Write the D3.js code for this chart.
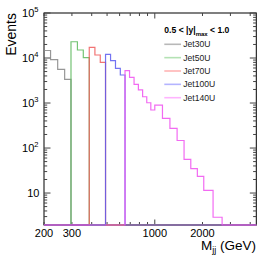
<!DOCTYPE html>
<html>
<head>
<meta charset="utf-8">
<script src="https://cdn.jsdelivr.net/npm/d3@7"></script>
<style>
  body { margin: 0; background: #fff; }
  svg { display: block; font-family: "Liberation Sans", Arial, sans-serif; }
</style>
</head>
<body>
<div id="chart"></div>
<script>
// bin edges in GeV (dijet mass binning, coarser at high mass)
const binEdges = [197, 220, 244, 270, 296, 325, 354, 386, 419, 453, 489, 526, 565, 606, 649,
  693, 740, 788, 838, 890, 944, 1000, 1118, 1246, 1383, 1530, 1687, 1856, 2037, 2332, 2659, 4509];

const triggers = ['Jet30U', 'Jet50U', 'Jet70U', 'Jet100U', 'Jet140U'];
// mass where each trigger's range begins
const triggerStart = [197, 296, 386, 489, 649];

const jet30U = [14700, 9170, 5610, 3360];
const jet50U = [23000, 15060, 10160];
const jet70U = [17290, 11660, 8020];
const jet100U = [12080, 8710, 5900, 4190];
const jet140U = [5220, 3730, 2600, 1950, 1380, 1015, 700, 900, 457, 274, 147, 56, 35, 23.5, 11.5, 2.9];

const seriesValues = [jet30U, jet50U, jet70U, jet100U, jet140U];

const yLabelTicks = [10, 100, 1000, 10000, 100000];
const xLabelTicks = [200, 300, 1000, 2000];
const xMajorTicks = [1000];

const colors = ['#858585', '#5cb85c', '#f05a5a', '#5a5af0', '#f050f0'];
const legendColors = ['#b8b8b8', '#b4e2b4', '#ffb4b4', '#b4b4ff', '#ffb4ff'];

const width = 270, height = 259;
const margins = {top: 13, right: 13.7, bottom: 34, left: 44};

const svg = d3.select('#chart')
  .append('svg')
  .attr('width', width)
  .attr('height', height);

const x = d3.scaleLog()
  .domain([200, 4370])
  .range([margins.left, width - margins.right]);

const y = d3.scaleLog()
  .domain([1.95, 1e5])
  .range([height - margins.bottom, margins.top]);

const x0 = margins.left, x1 = width - margins.right;
const y0 = height - margins.bottom, y1 = margins.top;

svg.append('clipPath').attr('id', 'frame')
  .append('rect')
  .attr('x', x0).attr('y', y1 - 1)
  .attr('width', x1 - x0).attr('height', y0 - y1 + 2);

// frame
svg.append('rect')
  .attr('x', x0).attr('y', y1)
  .attr('width', x1 - x0).attr('height', y0 - y1)
  .attr('fill', 'none')
  .attr('stroke', '#000')
  .attr('stroke-width', 1);

// ticks, ROOT style: inside the frame on all four sides
const tickColor = '#444';
const xTicks = x.ticks();
const yTicks = y.ticks();

function addTicks(sel, vals, pos, vertical, len) {
  sel.selectAll(null)
    .data(vals)
    .enter()
    .append('line')
    .attr('stroke', tickColor)
    .attr('stroke-width', 1)
    .each(function (d) {
      const l = len(d);
      const self = d3.select(this);
      if (vertical) {
        self.attr('x1', x(d)).attr('x2', x(d)).attr('y1', pos).attr('y2', pos + l);
      } else {
        self.attr('y1', y(d)).attr('y2', y(d)).attr('x1', pos).attr('x2', pos + l);
      }
    });
}

const gt = svg.append('g');
const xLen = d => xMajorTicks.includes(d) ? 5.5 : 3;
const yLen = d => yLabelTicks.includes(d) ? 6.5 : 3.2;
addTicks(gt, xTicks, y0, true, d => -xLen(d));
addTicks(gt, xTicks, y1, true, xLen);
addTicks(gt, yTicks, x0, false, yLen);
addTicks(gt, yTicks, x1, false, d => -yLen(d));

// histograms, drawn over the full range; empty bins sit on the frame bottom
const line = d3.line().x(d => d[0]).y(d => d[1]);
const plot = svg.append('g').attr('clip-path', 'url(#frame)');

seriesValues.forEach((vals, s) => {
  const startBin = binEdges.indexOf(triggerStart[s]);
  const pts = [];
  for (let i = 0; i < binEdges.length - 1; i++) {
    const v = (i >= startBin && i < startBin + vals.length) ? vals[i - startBin] : 0;
    const yy = v > 0 ? y(v) : y0;
    pts.push([x(binEdges[i]), yy]);
    pts.push([x(binEdges[i + 1]), yy]);
  }
  plot.append('path')
    .attr('d', line(pts))
    .attr('fill', 'none')
    .attr('stroke', colors[s])
    .attr('stroke-opacity', 0.85)
    .attr('stroke-width', 1.2);
});

// y tick labels
const yl = svg.append('g')
  .attr('font-size', 11)
  .attr('fill', '#000');

yLabelTicks.forEach(v => {
  const p = Math.round(Math.log10(v));
  const t = yl.append('text')
    .attr('x', 38.5)
    .attr('y', y(v) + 4)
    .attr('text-anchor', 'end');
  if (p === 1) {
    t.attr('x', 39.5).text('10');
  } else {
    t.append('tspan').text('10');
    t.append('tspan')
      .attr('font-size', 7.5)
      .attr('dy', -5)
      .text(p);
  }
});

// x tick labels
svg.append('g')
  .selectAll('text')
  .data(xLabelTicks)
  .enter()
  .append('text')
  .attr('x', d => x(d))
  .attr('y', 237)
  .attr('text-anchor', 'middle')
  .attr('font-size', 11)
  .text(d => d);

// axis titles
svg.append('text')
  .attr('transform', 'translate(16,13) rotate(-90)')
  .attr('text-anchor', 'end')
  .attr('font-size', 14)
  .text('Events');

const xt = svg.append('text')
  .attr('x', 256)
  .attr('y', 249.5)
  .attr('text-anchor', 'end')
  .attr('font-size', 13.5);
xt.append('tspan').text('M');
xt.append('tspan').attr('font-size', 9).attr('dy', 3).text('jj');
xt.append('tspan').attr('dy', -3).text(' (GeV)');

// legend
const lg = svg.append('g');
const head = lg.append('text')
  .attr('x', 164.3)
  .attr('y', 33.3)
  .attr('font-size', 8.6)
  .attr('font-weight', 'bold');
head.append('tspan').text('0.5 < |y|');
head.append('tspan').attr('font-size', 6).attr('dy', 2.5).text('max');
head.append('tspan').attr('dy', -2.5).text(' < 1.0');

triggers.forEach((name, i) => {
  const cy = 44.3 + i * 13.35;
  lg.append('line')
    .attr('x1', 164.3).attr('x2', 181)
    .attr('y1', cy).attr('y2', cy)
    .attr('stroke', legendColors[i])
    .attr('stroke-width', 1.6);
  lg.append('text')
    .attr('x', 183.3)
    .attr('y', cy + 3.1)
    .attr('font-size', 8.6)
    .attr('fill', '#222')
    .text(name);
});
</script>
</body>
</html>
